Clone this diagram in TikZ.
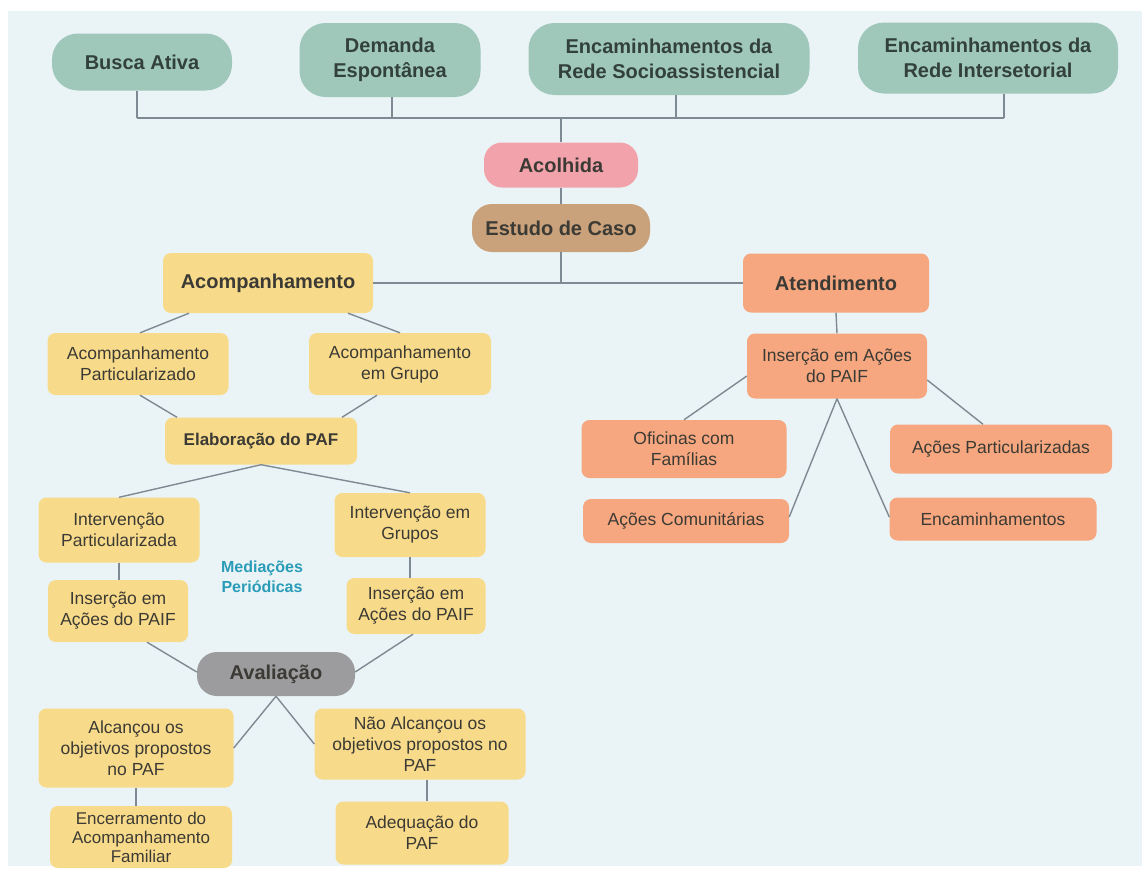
\documentclass[tikz,border=0pt]{standalone}
\usepackage{fontspec}
\setmainfont{Liberation Sans}
\usetikzlibrary{calc}
\definecolor{bgc}{HTML}{EAF4F6}
\definecolor{teal}{HTML}{9FC7BA}
\definecolor{tealtxt}{HTML}{33413C}
\definecolor{pinkc}{HTML}{F2A2AA}
\definecolor{brownc}{HTML}{C9A17B}
\definecolor{yel}{HTML}{F8DB8A}
\definecolor{ora}{HTML}{F6A77F}
\definecolor{grayc}{HTML}{9C9C9E}
\definecolor{linec}{HTML}{7E8A93}
\definecolor{txt}{HTML}{3C3A34}
\definecolor{medc}{HTML}{2A9CB8}
\newcommand{\bigtxt}{\fontsize{20}{25}\selectfont\bfseries}
\newcommand{\midb}{\fontsize{17}{21}\selectfont\bfseries}
\newcommand{\regtxt}{\fontsize{17.5}{21}\selectfont}
\newcommand{\tighttxt}{\fontsize{17}{19}\selectfont}
\tikzset{
  base/.style={inner sep=0pt, align=center, text=txt},
  topbox/.style={base, fill=teal, text=tealtxt, rounded corners=26pt, font=\bigtxt},
  ybox/.style={base, fill=yel, rounded corners=8pt, font=\regtxt},
  obox/.style={base, fill=ora, rounded corners=8pt, font=\regtxt},
  conn/.style={draw=linec, line width=1.4pt},
}
\begin{document}
\begin{tikzpicture}[x=1pt,y=-1pt]
\useasboundingbox (0,0) rectangle (1142,870);
\clip (0,0) rectangle (1142,870);
\fill[bgc] (8,11) rectangle (1142,866);

% top row
\node[topbox, minimum width=180, minimum height=57] (busca) at (142,62) {Busca Ativa};
\node[topbox, minimum width=181, minimum height=74] (demanda) at (390,60) {Demanda\\Espontânea};
\node[topbox, minimum width=281, minimum height=72] (socio) at (669,59) {Encaminhamentos da\\Rede Socioassistencial};
\node[topbox, minimum width=260, minimum height=71] (inter) at (988,58) {Encaminhamentos da\\Rede Intersetorial};

\node[base, fill=pinkc, rounded corners=18pt, font=\bigtxt, minimum width=154, minimum height=45] (acolhida) at (561,165) {Acolhida};
\node[base, fill=brownc, rounded corners=20pt, font=\bigtxt, minimum width=178, minimum height=48] (estudo) at (561,228) {Estudo de Caso};

\node[ybox, font=\bigtxt, minimum width=210, minimum height=60] (acomp) at (268,283) {Acompanhamento};
\node[obox, font=\bigtxt, minimum width=186, minimum height=59] (atend) at (836,283) {Atendimento};

% right branch
\node[obox, minimum width=180, minimum height=65] (insR) at (837,366) {Inserção em Ações\\do PAIF};
\node[obox, minimum width=205, minimum height=58] (ofic) at (684,449) {Oficinas com\\Famílias};
\node[obox, minimum width=222, minimum height=49] (acpart) at (1001,449) {Ações Particularizadas};
\node[obox, minimum width=206, minimum height=44] (acom) at (686,521) {Ações Comunitárias};
\node[obox, minimum width=207, minimum height=43] (encam) at (993,519) {Encaminhamentos};

% left branch
\node[ybox, minimum width=181, minimum height=62] (ap) at (138,364) {Acompanhamento\\Particularizado};
\node[ybox, minimum width=182, minimum height=62] (ag) at (400,364) {Acompanhamento\\em Grupo};
\node[ybox, font=\midb, minimum width=192, minimum height=47] (elab) at (261,441) {Elaboração do PAF};
\node[ybox, minimum width=161, minimum height=65] (ip) at (119,530) {Intervenção\\Particularizada};
\node[ybox, minimum width=151, minimum height=64] (ig) at (410,525) {Intervenção em\\Grupos};
\node[base, text=medc, font=\fontsize{16}{20}\selectfont\bfseries] (med) at (262,577) {Mediações\\Periódicas};
\node[ybox, minimum width=140, minimum height=62] (insL) at (118,611) {Inserção em\\Ações do PAIF};
\node[ybox, minimum width=139, minimum height=56] (insR2) at (416,606) {Inserção em\\Ações do PAIF};
\node[base, fill=grayc, rounded corners=20pt, font=\bigtxt, minimum width=158, minimum height=44] (aval) at (276,674) {Avaliação};
\node[ybox, minimum width=195, minimum height=79] (alc) at (136,748) {Alcançou os\\objetivos propostos\\no PAF};
\node[ybox, minimum width=211, minimum height=71] (nalc) at (420,744) {Não Alcançou os\\objetivos propostos no\\PAF};
\node[ybox, font=\tighttxt, minimum width=182, minimum height=62] (encer) at (141,837) {Encerramento do\\Acompanhamento\\Familiar};
\node[ybox, minimum width=173, minimum height=63] (adeq) at (422,833) {Adequação do\\PAF};

% top bus
\coordinate (b1) at (137,118);
\coordinate (b2) at (392,118);
\coordinate (b3) at (676,118);
\coordinate (b4) at (1004,118);
\coordinate (bc) at (561,118);
\draw[conn] (b1) -- (b4);
\draw[conn] (b1) -- (b1 |- busca.south);
\draw[conn] (b2) -- (b2 |- demanda.south);
\draw[conn] (b3) -- (b3 |- socio.south);
\draw[conn] (b4) -- (b4 |- inter.south);
\draw[conn] (bc) -- (acolhida.north);
\draw[conn] (acolhida.south) -- (estudo.north);
\draw[conn] (acomp.east) -- (atend.west);
\draw[conn] (estudo.south) -- (estudo.south |- acomp.east);

% left connectors
\draw[conn] ($(acomp.south)+(-79,0)$) -- ($(ap.north)+(2,0)$);
\draw[conn] ($(acomp.south)+(80,0)$) -- (ag.north);
\draw[conn] ($(ap.south)+(2,0)$) -- ($(elab.north)+(-84,0)$);
\draw[conn] ($(ag.south)+(-23,0)$) -- ($(elab.north)+(81,0)$);
\draw[conn] (elab.south) -- (ip.north);
\draw[conn] (elab.south) -- (ig.north);
\draw[conn] (ip.south) -- (ip.south |- insL.north);
\draw[conn] (ig.south) -- (ig.south |- insR2.north);
\draw[conn] ($(insL.south)+(29,0)$) -- ($(aval.west)+(0,-2)$);
\draw[conn] ($(insR2.south)+(-3,0)$) -- ($(aval.east)+(0,-2)$);
\draw[conn] (aval.south) -- (alc.east);
\draw[conn] (aval.south) -- (nalc.west);
\draw[conn] (alc.south) -- (alc.south |- encer.north);
\draw[conn] ($(nalc.south)+(7,0)$) -- ($(adeq.north)+(5,0)$);

% right connectors
\draw[conn] (atend.south) -- (insR.north);
\draw[conn] ($(insR.west)+(0,10)$) -- (ofic.north);
\draw[conn] (insR.south) -- ($(acom.east)+(0,-4)$);
\draw[conn] (insR.south) -- ($(encam.west)+(0,-2)$);
\draw[conn] ($(insR.east)+(0,14)$) -- ($(acpart.north)+(-18,0)$);
\end{tikzpicture}
\end{document}
